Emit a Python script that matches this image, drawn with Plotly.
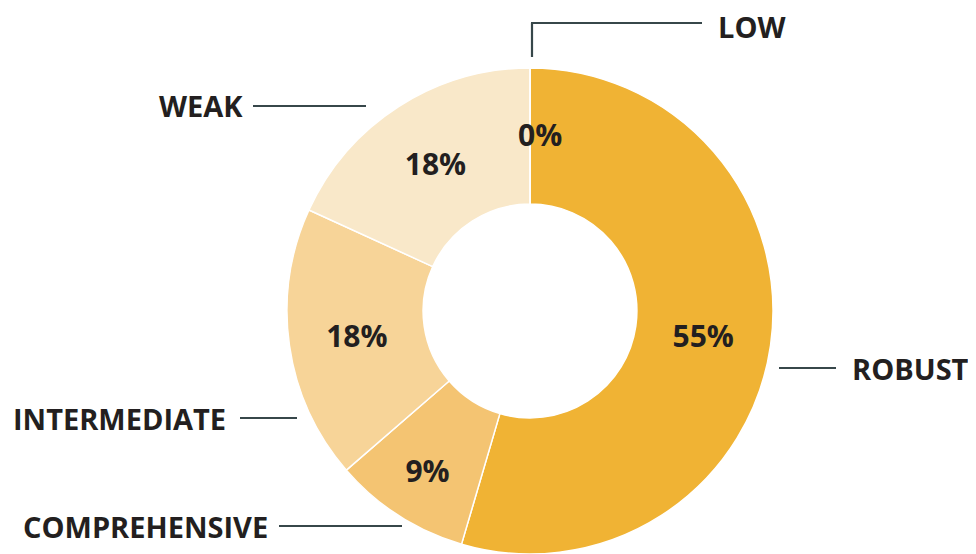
import plotly.graph_objects as go

categories = ["ROBUST", "COMPREHENSIVE", "INTERMEDIATE", "WEAK", "LOW"]
counts = [6, 1, 2, 2, 0]
colors = ["#F0B334", "#F4C472", "#F7D498", "#F9E8C9", "#F9E8C9"]

W, H = 976, 554
OFF = 8  # page body margin
TXT = "#231F20"
LINE = "#37474A"
FONT = "Open Sans"

def px(x):
    return (x - OFF) / W

def py(y):
    return 1 - (y - OFF) / H

total = sum(counts)
pct_text = [f"{round(100 * c / total)}%" if c > 0 else "" for c in counts]

fig = go.Figure(go.Pie(
    labels=categories,
    values=counts,
    text=pct_text,
    textinfo="text",
    textposition="inside",
    insidetextorientation="horizontal",
    textfont=dict(family=FONT, size=30, color=TXT, weight="bold"),
    marker=dict(colors=colors, line=dict(color="white", width=1.5)),
    hole=0.44,
    sort=False,
    direction="clockwise",
    rotation=0,
    domain=dict(x=[px(287), px(773)], y=[py(555), py(67)]),
    hoverinfo="label+percent",
))

# zero-valued slice label
zero_idx = counts.index(0)
anns = [dict(x=px(540), y=py(134), xref="paper", yref="paper",
             text=f"{round(100 * counts[zero_idx] / total)}%", showarrow=False,
             xanchor="center", yanchor="middle",
             font=dict(family=FONT, size=30, color=TXT, weight="bold"))]

# outside category labels: (x, y, xanchor)
label_pos = {
    "LOW": (717, 26, "left"),
    "WEAK": (244, 106, "right"),
    "INTERMEDIATE": (227, 418, "right"),
    "COMPREHENSIVE": (269, 526, "right"),
    "ROBUST": (970, 368, "right"),
}
for name in categories:
    x, y, xa = label_pos[name]
    anns.append(dict(x=px(x), y=py(y), xref="paper", yref="paper", text=name,
                     showarrow=False, xanchor=xa, yanchor="middle", borderpad=0,
                     font=dict(family=FONT, size=29, color=TXT, weight="bold")))

shapes = []
def seg(x0, y0, x1, y1):
    shapes.append(dict(type="line", xref="paper", yref="paper",
                       x0=px(x0), y0=py(y0), x1=px(x1), y1=py(y1),
                       line=dict(color=LINE, width=2.2)))

seg(532, 57, 532, 23)
seg(531, 23, 702, 23)
seg(253, 106, 366, 106)
seg(240, 418, 297, 418)
seg(279, 526, 402, 526)
seg(779, 368, 836, 368)

fig.update_layout(
    width=W, height=H,
    margin=dict(l=0, r=0, t=0, b=0),
    showlegend=False,
    paper_bgcolor="white",
    plot_bgcolor="white",
    annotations=anns,
    shapes=shapes,
)

fig.write_html("out.html")
